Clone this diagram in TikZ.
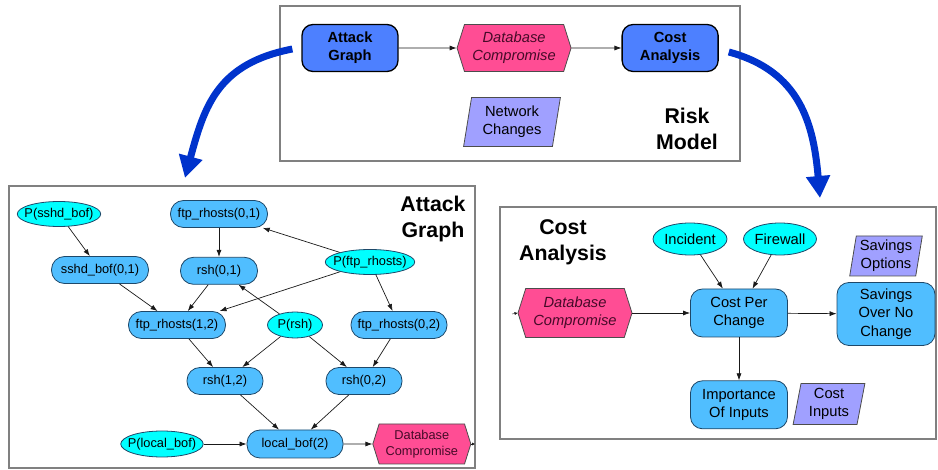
\documentclass[tikz,border=0pt]{standalone}
\usepackage{fontspec}
\setmainfont{Liberation Sans}
\usetikzlibrary{shapes.geometric, shapes.symbols, arrows.meta, positioning}
\definecolor{riskblue}{RGB}{77,128,255}
\definecolor{stateblue}{RGB}{80,190,255}
\definecolor{stateedge}{RGB}{30,72,105}
\definecolor{chancecyan}{RGB}{0,255,255}
\definecolor{targetpink}{RGB}{255,77,148}
\definecolor{targettext}{RGB}{70,10,40}
\definecolor{inputlav}{RGB}{160,160,255}
\definecolor{flowblue}{RGB}{0,51,204}
\definecolor{framegray}{RGB}{128,128,128}
\newcommand{\riskfont}{\fontsize{14.7}{18.3}\selectfont}
\newcommand{\graphfont}{\fontsize{12.8}{15.5}\selectfont}
\tikzset{
  % Panel frames and their titles
  panel/.style={draw=framegray, line width=1.2pt},
  paneltitle/.style={font=\fontsize{21.3}{26}\selectfont\bfseries, align=center},
  % Risk model block
  riskblock/.style={
    rectangle, rounded corners=11pt, draw=black, fill=riskblue, line width=1.3pt,
    minimum width=96pt, minimum height=47pt, align=center, font=\riskfont\bfseries
  },
  % Hexagon for the compromise target
  target/.style={
    signal, signal to=west and east, signal pointer angle=145, draw=black!70,
    fill=targetpink, text=targettext, line width=0.8pt, align=center, inner sep=0pt
  },
  % Input parallelogram
  inputbox/.style={
    trapezium, trapezium left angle=80, trapezium right angle=100,
    trapezium stretches=true, draw=black!70, fill=inputlav, line width=0.8pt,
    align=center, inner sep=1pt
  },
  % Attack graph state and chance nodes
  statenode/.style={
    rectangle, rounded corners=13pt, draw=stateedge, fill=stateblue, line width=0.8pt,
    minimum width=97pt, minimum height=27pt, inner sep=1pt
  },
  chance/.style={
    ellipse, draw=stateedge, fill=chancecyan, line width=0.8pt,
    inner xsep=-5pt, inner ysep=0pt, minimum height=25pt
  },
  % Cost analysis block
  costblock/.style={
    rectangle, rounded corners=12pt, draw=stateedge, fill=stateblue, line width=0.8pt,
    minimum width=97pt, minimum height=48pt, align=center
  },
  link/.style={-{Latex[length=7pt,width=5pt]}, line width=0.7pt, black!90},
  stub/.style={-{Latex[length=3pt,width=3pt]}, line width=0.4pt, black!90},
  flow/.style={-{Triangle[length=22pt,width=23pt]}, line width=7pt, flowblue}
}

\begin{document}
\begin{tikzpicture}[x=1pt, y=-1pt]
  \useasboundingbox (0,0) rectangle (938,470);

  % Risk model
  \begin{scope}[font=\riskfont]
    \draw[panel] (280,6) rectangle (740,161);
    \node[riskblock] (rag) at (350,48) {Attack\\Graph};
    \node[target, minimum width=114pt, minimum height=47pt, font=\riskfont\itshape,
      right=58pt of rag] (rdc) {Database\\Compromise};
    \node[riskblock, right=50pt of rdc] (rca) {Cost\\Analysis};
    \node[inputbox, minimum width=97pt, minimum height=49pt] (rnet) at (512,122)
      {Network\\Changes};
    \node[paneltitle] (rtitle) at (687,129) {Risk\\Model};

    \draw[link] (rag) -- (rdc);
    \draw[link] (rdc) -- (rca);
  \end{scope}

  % Attack graph
  \begin{scope}[font=\graphfont]
    \draw[panel] (9,186) rectangle (475,468);
    \node[paneltitle] (gtitle) at (433,219) {Attack\\Graph};

    \node[chance, minimum width=83pt] (psshd) at (59,214) {P(sshd\_bof)};
    \node[statenode] (f01) at (219,214) {ftp\_rhosts(0,1)};
    \node[statenode] (s01) at (100,270) {sshd\_bof(0,1)};
    \node[statenode, minimum width=77pt, below=29pt of f01] (r01) {rsh(0,1)};
    \node[chance] (pftp) at (370,262) {P(ftp\_rhosts)};
    \node[statenode] (f12) at (177,325) {ftp\_rhosts(1,2)};
    \node[chance, minimum width=55pt, minimum height=26pt] (prsh) at (295,325) {P(rsh)};
    \node[statenode, minimum width=96pt] (f02) at (399,325) {ftp\_rhosts(0,2)};
    \node[statenode, minimum width=76pt] (r12) at (225,381) {rsh(1,2)};
    \node[statenode, minimum width=76pt] (r02) at (364,381) {rsh(0,2)};
    \node[statenode, minimum width=96pt, minimum height=28pt] (lb2) at (295,444) {local\_bof(2)};
    \node[chance, minimum height=26pt, left=43pt of lb2] (plocal) {P(local\_bof)};
    \node[target, minimum width=98pt, minimum height=40pt, align=center,
      right=29pt of lb2] (gdc) {Database\\Compromise};
    \coordinate (gdcout) at (475,444);

    \draw[link] (psshd) -- (s01);
    \draw[link] (f01) -- (r01);
    \draw[link] (pftp) -- (f01);
    \draw[link] (pftp) -- (f12);
    \draw[link] (pftp) -- (f02);
    \draw[link] (s01) -- (f12);
    \draw[link] (r01) -- (f12);
    \draw[link] (prsh) -- (r01);
    \draw[link] (prsh) -- (r12);
    \draw[link] (prsh) -- (r02);
    \draw[link] (f12) -- (r12);
    \draw[link] (f02) -- (r02);
    \draw[link] (r12) -- (lb2);
    \draw[link] (r02) -- (lb2);
    \draw[link] (plocal) -- (lb2);
    \draw[link] (lb2) -- (gdc);
    \draw[stub] (gdc.east) -- (gdcout);
  \end{scope}

  % Cost analysis
  \begin{scope}[font=\riskfont]
    \draw[panel] (500,207) rectangle (936,439);
    \node[paneltitle] (ctitle) at (563,242) {Cost\\Analysis};

    \node[chance, minimum width=74pt, minimum height=32pt] (cinc) at (690,239) {Incident};
    \node[chance, minimum width=73pt, minimum height=32pt] (cfw) at (780,239) {Firewall};
    \node[inputbox, minimum width=73pt, minimum height=40pt] (csav) at (886,256)
      {Savings\\Options};
    \node[target, minimum width=114pt, minimum height=49pt, font=\riskfont\itshape]
      (cdc) at (575,313) {Database\\Compromise};
    \node[costblock] (cpc) at (739,313) {Cost Per\\Change};
    \node[costblock, minimum width=98pt, minimum height=63pt] (cson) at (886,314)
      {Savings\\Over No\\Change};
    \node[costblock, below=43pt of cpc] (cimp) {Importance\\Of Inputs};
    \node[inputbox, minimum width=72pt, minimum height=41pt] (cin) at (829,404)
      {Cost\\Inputs};
    \coordinate (cdcin) at (512,314);

    \draw[stub] (cdcin) -- (cdc.west);
    \draw[link] (cdc) -- (cpc);
    \draw[link] (cinc) -- (cpc);
    \draw[link] (cfw) -- (cpc);
    \draw[link] (cpc) -- (cson);
    \draw[link] (cpc) -- (cimp);
  \end{scope}

  % Flow from the risk model into its parts
  \coordinate (agin) at (185,178);
  \coordinate (cain) at (820,198);
  \draw[flow] ([xshift=-9pt, yshift=-1pt]rag.west) to[out=191, in=75, looseness=1.15] (agin);
  \draw[flow] ([xshift=10pt, yshift=-4pt]rca.east) to[out=-15, in=95, looseness=1.1] (cain);
\end{tikzpicture}
\end{document}
